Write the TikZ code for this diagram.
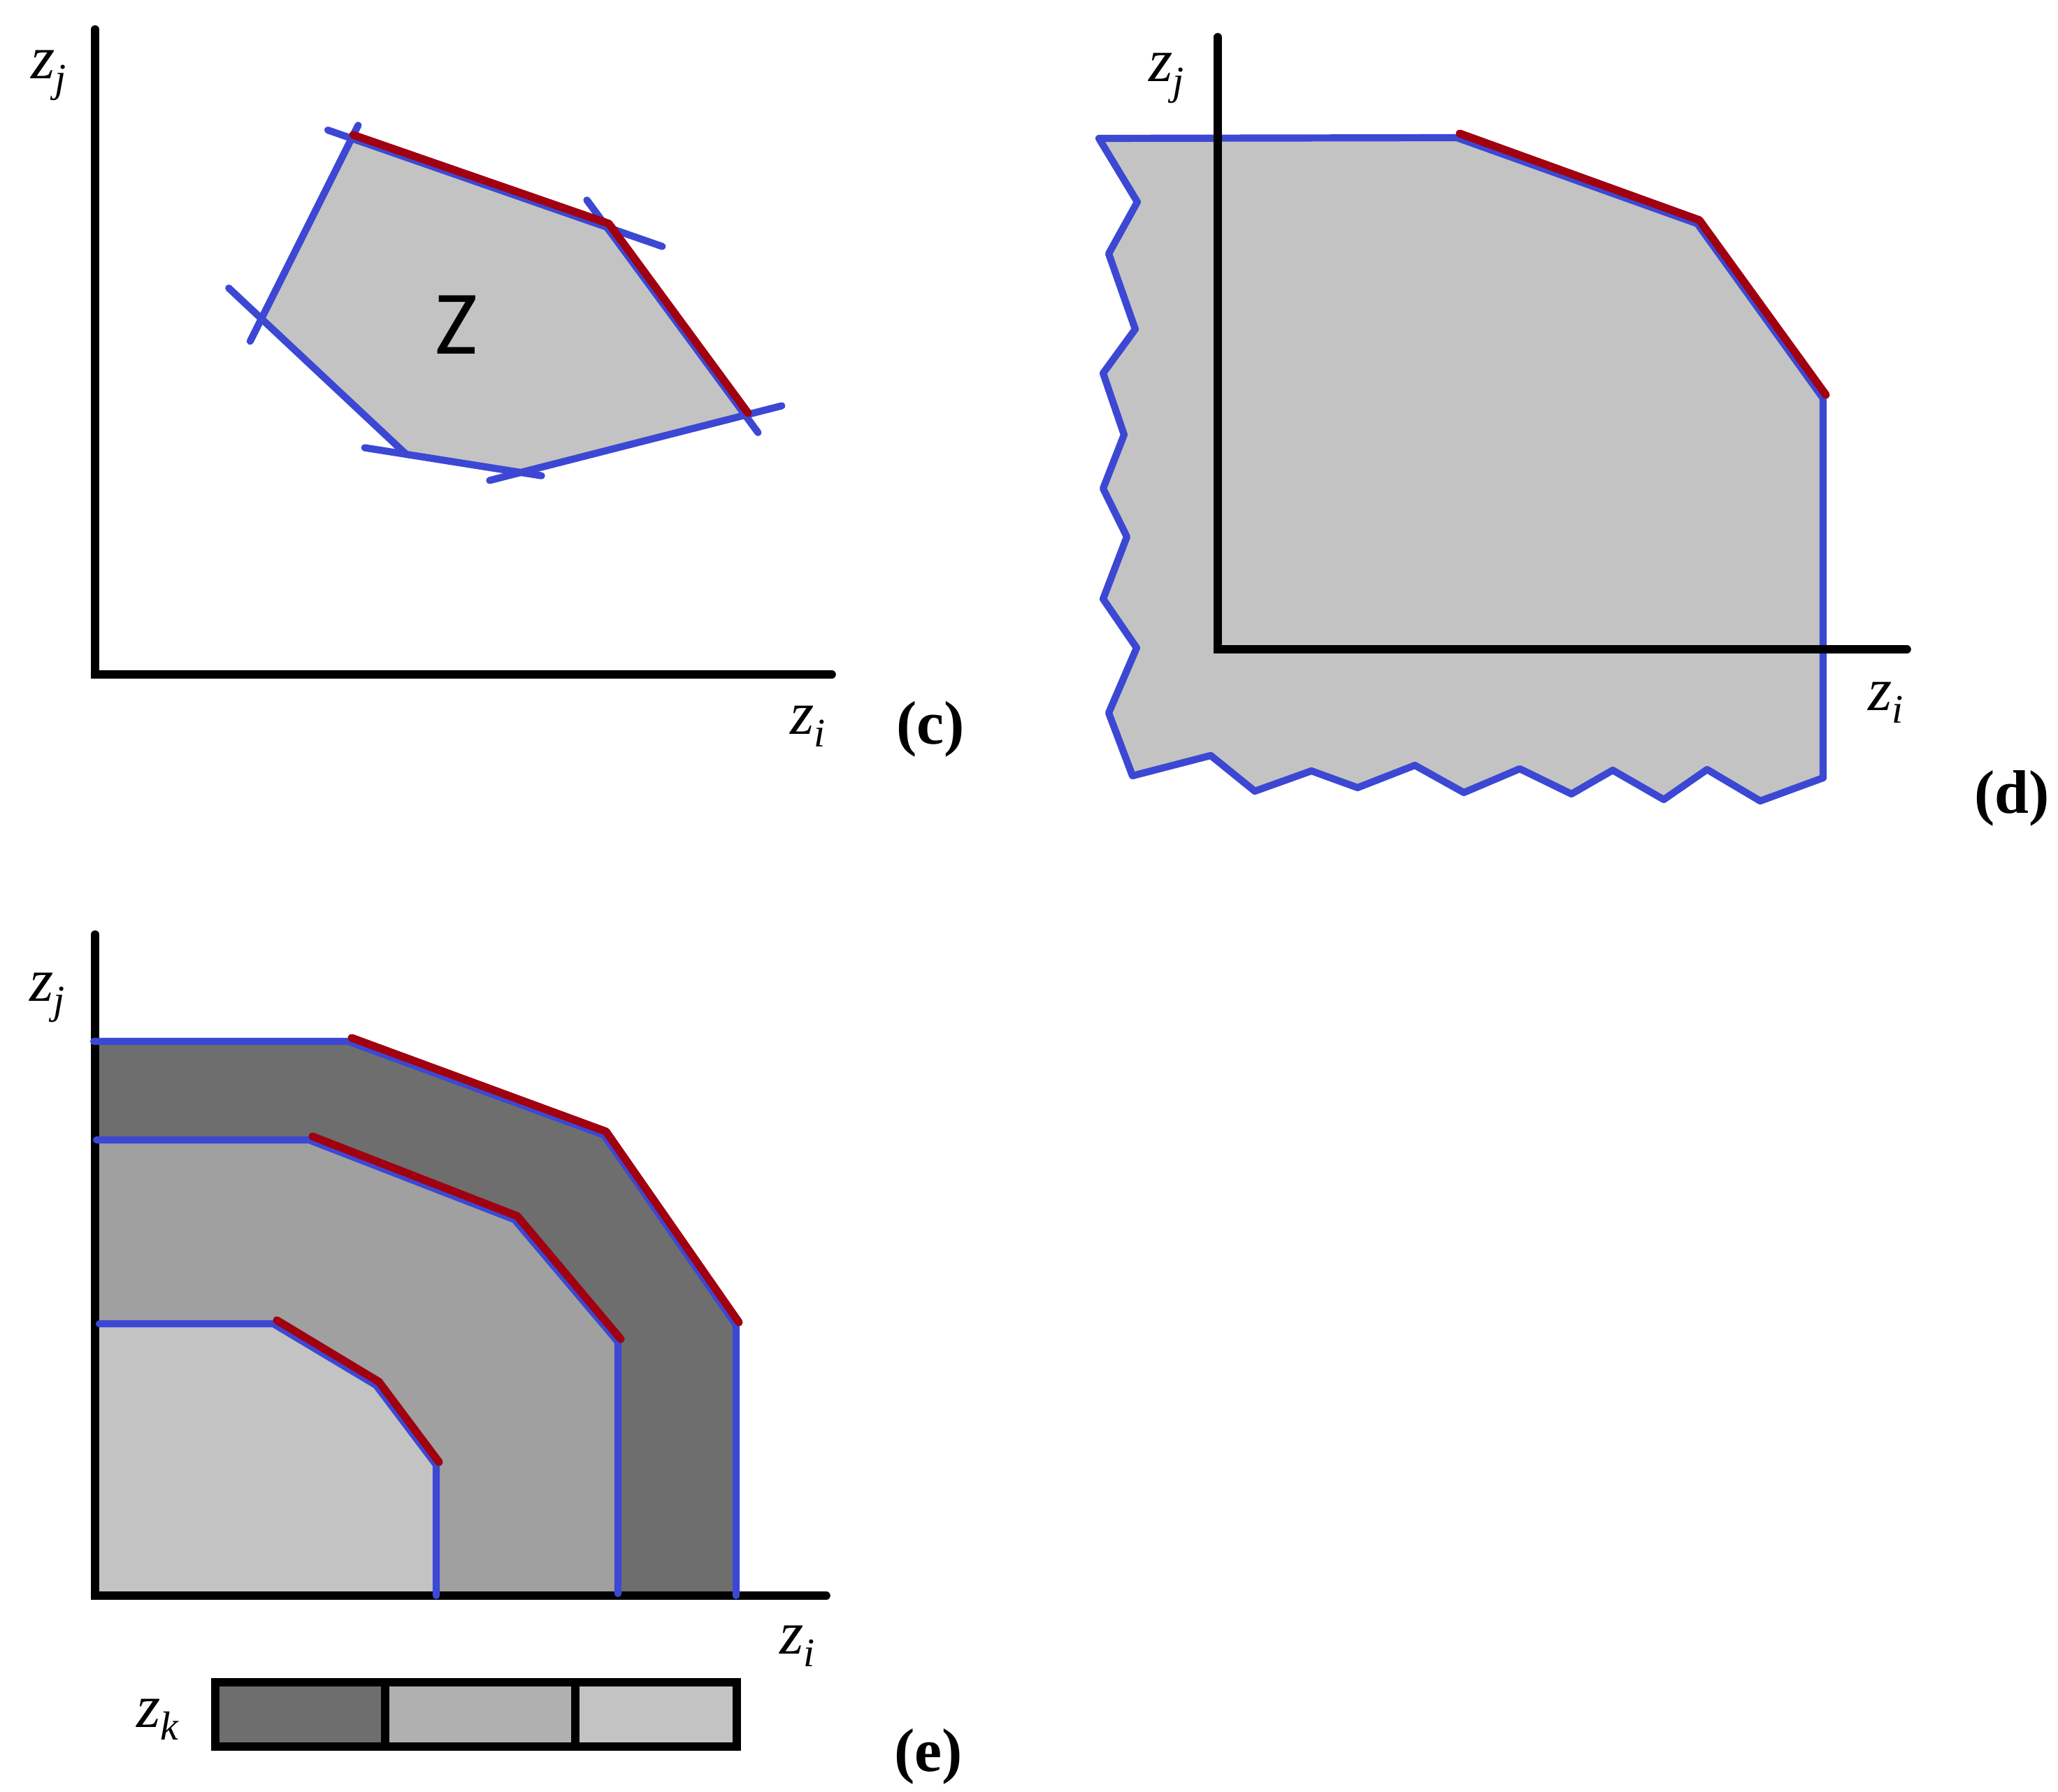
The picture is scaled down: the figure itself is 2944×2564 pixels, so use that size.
\documentclass[tikz,border=0pt]{standalone}
\usepackage{fontspec}
\setmainfont{Liberation Serif}
\newfontfamily\zfont{Carlito}
\usetikzlibrary{calc}
\definecolor{bl}{RGB}{60,72,212}
\definecolor{rd}{RGB}{160,0,16}
\definecolor{gA}{RGB}{195,195,195}
\definecolor{gB}{RGB}{160,160,160}
\definecolor{gC}{RGB}{110,110,110}
\definecolor{gD}{RGB}{176,176,176}
\newcommand{\zlab}[1]{\textit{z}\raisebox{-5.3pt}{\fontsize{16.5}{16.5}\selectfont\textit{#1}}}
\begin{document}
\begin{tikzpicture}[x=0.01cm,y=-0.01cm,
  axisline/.style={line width=3.3pt, line cap=round, line join=miter, draw=black},
  blu/.style={line width=2.9pt, line cap=round, line join=round, draw=bl},
  redl/.style={line width=3.2pt, line cap=round, line join=round, draw=rd},
  legline/.style={line width=3.4pt, draw=black},
  lab/.style={font=\fontsize{25}{30}\selectfont, inner sep=0pt, anchor=base west},
  plab/.style={font=\fontsize{25}{30}\selectfont\bfseries, inner sep=0pt, anchor=center}]
\useasboundingbox (0,0) rectangle (2944,2564);

% ================= panel (c) =================
\coordinate (c1) at (503,198);
\coordinate (c2) at (868,325);
\coordinate (c3) at (1066,594);
\coordinate (c4) at (745,676);
\coordinate (c5) at (581,650);
\coordinate (c6) at (374,456);
\fill[gA] (c1)--(c2)--(c3)--(c4)--(c5)--(c6)--cycle;
\draw[blu] ($(c1)!-0.36cm!(c2)$) -- ($(c2)!-0.84cm!(c1)$);
\draw[blu] ($(c2)!-0.48cm!(c3)$) -- ($(c3)!-0.31cm!(c2)$);
\draw[blu] ($(c3)!-0.54cm!(c4)$) -- ($(c4)!-0.46cm!(c3)$);
\draw[blu] ($(c4)!-0.30cm!(c5)$) -- ($(c5)!-0.60cm!(c4)$);
\draw[blu] (c5) -- ($(c6)!-0.64cm!(c5)$);
\draw[blu] ($(c6)!-0.36cm!(c1)$) -- ($(c1)!-0.21cm!(c6)$);
\draw[redl] ($(c1)+(2,-5)$) -- ($(c2)+(3,-5)$) -- ($(c3)+(4,-3)$);
\draw[axisline] (136,42) -- (136,965) -- (1190,965);
\node[font=\zfont\fontsize{37}{40}\selectfont, inner sep=0pt] (Zc) at (653,465) {Z};
\node[lab] (cj) at (44,113) {\zlab{j}};
\node[lab] (ci) at (1130,1050) {\zlab{i}};
\node[plab] (cc) at (1331,1043) {(c)};

% ================= panel (d) =================
\filldraw[blu, fill=gA]
  (1572,198) -- (2084,197) -- (2428,320) -- (2608,570) -- (2608,1113)
  -- (2518,1146) -- (2442,1101) -- (2380,1144) -- (2307,1102) -- (2248,1136)
  -- (2174,1100) -- (2094,1134) -- (2024,1095) -- (1942,1127) -- (1876,1103)
  -- (1795,1132) -- (1732,1081) -- (1620,1110)
  -- (1586,1020) -- (1626,927) -- (1578,857) -- (1612,768) -- (1578,699)
  -- (1608,622) -- (1578,534) -- (1624,471) -- (1586,363) -- (1627,289)
  -- cycle;
\draw[axisline] (1742,53) -- (1742,929) -- (2728,929);
\draw[redl] (2088,191) -- (2431,315) -- (2612,565);
\node[lab] (dj) at (1643,117) {\zlab{j}};
\node[lab] (di) at (2672,1016) {\zlab{i}};
\node[plab] (dd) at (2878,1142) {(d)};

% ================= panel (e) =================
\fill[gC] (136,1490) -- (498,1490) -- (864,1624) -- (1053,1896) -- (1053,2283) -- (136,2283) -- cycle;
\fill[gB] (136,1631) -- (442,1631) -- (736,1745) -- (884,1920) -- (884,2283) -- (136,2283) -- cycle;
\fill[gA] (136,1894) -- (391,1894) -- (538,1982) -- (624,2096) -- (624,2283) -- (136,2283) -- cycle;
\draw[axisline] (136,1337) -- (136,2283) -- (1182,2283);
\draw[blu] (134,1490) -- (498,1490) -- (864,1624) -- (1053,1896) -- (1053,2283);
\draw[blu] (138,1631) -- (442,1631) -- (736,1745) -- (884,1920) -- (884,2280);
\draw[blu] (142,1894) -- (391,1894) -- (538,1982) -- (624,2096) -- (624,2283);
\draw[redl] (503,1485) -- (867,1619) -- (1057,1892);
\draw[redl] (447,1626) -- (740,1740) -- (888,1916);
\draw[redl] (396,1889) -- (542,1977) -- (628,2092);
\node[lab] (ej) at (42,1432) {\zlab{j}};
\node[lab] (ei) at (1115,2366) {\zlab{i}};
% legend bar
\fill[gC] (308,2407) rectangle (551,2499);
\fill[gD] (551,2407) rectangle (823,2499);
\fill[gA] (823,2407) rectangle (1054,2499);
\draw[legline] (308,2407) rectangle (1054,2499);
\draw[legline] (551,2407) -- (551,2499);
\draw[legline] (823,2407) -- (823,2499);
\node[lab] (ek) at (195,2471) {\zlab{k}};
\node[plab] (ee) at (1328,2513) {(e)};
\end{tikzpicture}
\end{document}
